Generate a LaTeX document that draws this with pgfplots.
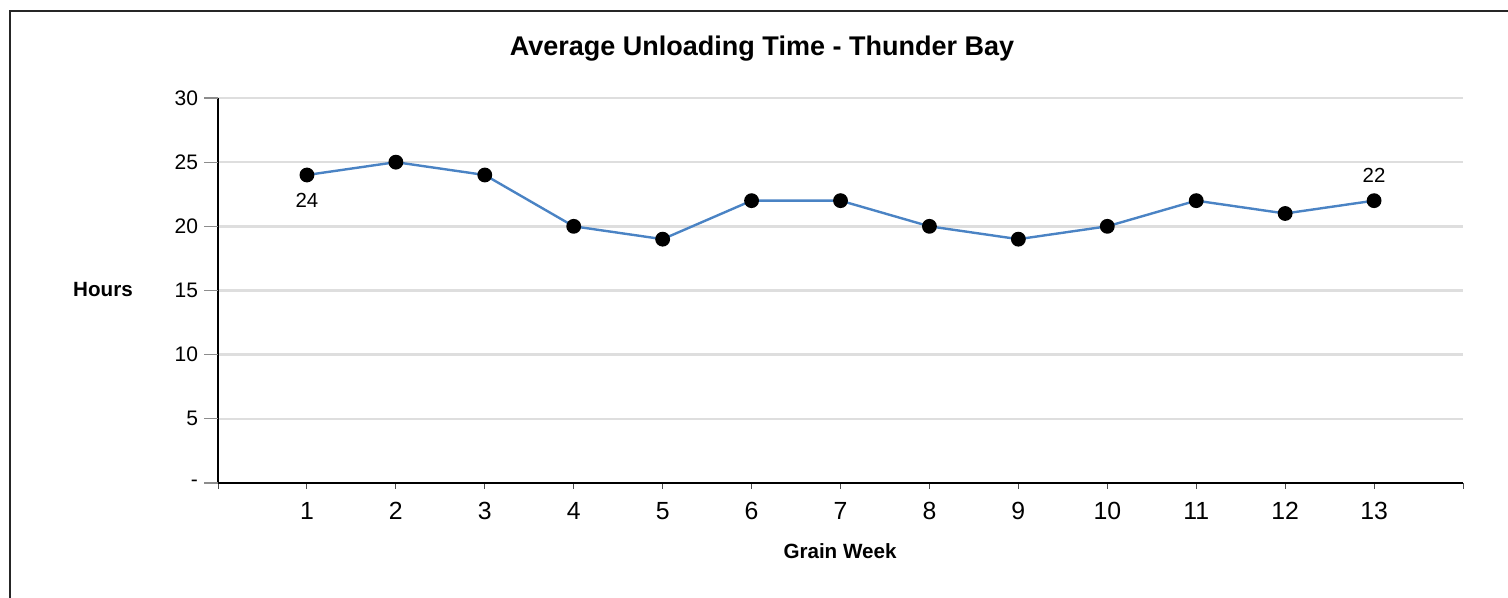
\documentclass[border=0pt]{standalone}
\usepackage{pgfplots}
\pgfplotsset{compat=1.18}
\usepackage{fontspec}
\setmainfont{Liberation Sans}
\definecolor{linecol}{HTML}{4A83C4}
\definecolor{gridcol}{HTML}{DEDEDE}
\begin{document}
\begin{tikzpicture}
\useasboundingbox (0,0) rectangle (754pt,299pt);
\draw[line width=0.75pt, black!85] (5pt,-2pt) -- (5pt,293.5pt) -- (756pt,293.5pt);
\begin{axis}[
  at={(109pt,57.5pt)}, anchor=south west,
  scale only axis, width=622.5pt, height=192.5pt,
  xmin=0, xmax=14, ymin=0, ymax=30,
  axis x line*=bottom, axis y line*=left,
  axis line style={black, line width=1.1pt},
  xtick={0,1,2,3,4,5,6,7,8,9,10,11,12,13,14},
  xticklabels={,1,2,3,4,5,6,7,8,9,10,11,12,13,},
  ytick={0,5,10,15,20,25,30},
  yticklabels={-,5,10,15,20,25,30},
  tick align=outside,
  major tick length=3pt,
  x tick style={black!70, line width=0.5pt},
  y tick style={draw=none},
  xticklabel style={font=\fontsize{12.4}{14}\selectfont, yshift=-3pt},
  yticklabel style={font=\fontsize{10.5}{12}\selectfont, xshift=-3.5pt},
  ymajorgrids,
  grid style={gridcol, line width=1.3pt},
  clip=false,
]
\addplot[linecol, line width=1.2pt, mark=*, mark size=3.1pt, mark options={fill=black, draw=black, solid}]
  coordinates {(1,24) (2,25) (3,24) (4,20) (5,19) (6,22) (7,22) (8,20) (9,19) (10,20) (11,22) (12,21) (13,22)};
\node[font=\fontsize{10.2}{12}\selectfont] at (axis cs:1,24) [yshift=-12.5pt] {24};
\node[font=\fontsize{10.2}{12}\selectfont] at (axis cs:13,22) [yshift=12.5pt] {22};
\end{axis}
\foreach \i in {0,...,6} \draw[black!45, line width=0.6pt] (102pt,57.5pt+\i*32.0833pt) -- (109pt,57.5pt+\i*32.0833pt);
\node[font=\fontsize{13.5}{16}\selectfont\bfseries] at (381pt,274.5pt) {Average Unloading Time - Thunder Bay};
\node[font=\fontsize{10.3}{12}\selectfont\bfseries] at (51.5pt,154pt) {Hours};
\node[font=\fontsize{10.3}{12}\selectfont\bfseries] at (420pt,23.5pt) {Grain Week};
\end{tikzpicture}
\end{document}
